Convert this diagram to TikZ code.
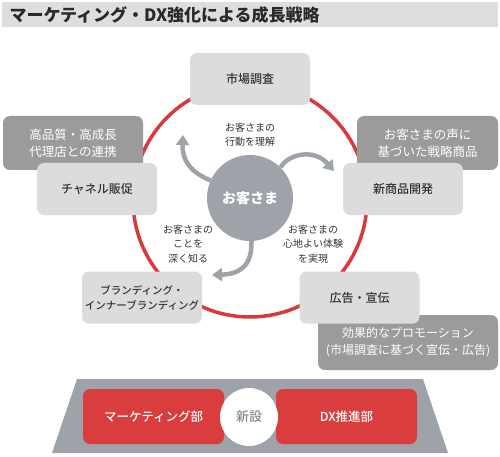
\documentclass[tikz,border=0pt]{standalone}
\usepackage{fontspec}
\setmainfont{Noto Sans CJK JP}
\newfontfamily\medfont{Noto Sans CJK JP Medium}
\usetikzlibrary{arrows.meta}

\definecolor{ringred}{HTML}{D9393C}
\definecolor{boxgray}{HTML}{DCDCDC}
\definecolor{notegray}{HTML}{9B9B9B}
\definecolor{custgray}{HTML}{9EA3A9}
\definecolor{textgray}{HTML}{333333}
\definecolor{titlebar}{HTML}{DEDEDE}
\definecolor{deptred}{HTML}{D93D3D}

\tikzset{
  stepbox/.style={fill=boxgray, rounded corners=7pt, minimum width=120pt, minimum height=52pt,
    text=textgray, font=\medfont\fontsize{12}{15}\selectfont, align=center, inner sep=0pt},
  notebox/.style={fill=notegray, rounded corners=7pt, minimum width=140pt, minimum height=54pt,
    text=white, font=\fontsize{12.5}{17}\selectfont, align=center, inner sep=0pt},
  flowarrow/.style={draw=custgray, line width=4.5pt, -{Triangle[length=10pt,width=13pt]}},
  cuetext/.style={text=textgray, font=\fontsize{10}{14.5}\selectfont, align=center, inner sep=0pt},
  deptbox/.style={fill=deptred, rounded corners=7pt, minimum width=141pt, minimum height=55pt,
    text=white, font=\medfont\fontsize{12.5}{15}\selectfont, inner sep=0pt},
}

\begin{document}
\begin{tikzpicture}[x=1pt, y=-1pt]
    \useasboundingbox (0,0) rectangle (500,457);
    % title
    \fill[titlebar] (2,2) rectangle (498,27);
    \node[anchor=west, text=textgray!80!black, font=\bfseries\fontsize{17}{17}\selectfont] (title) at (6,15) {マーケティング・DX強化による成長戦略};
    % ring
    \coordinate (ring) at (250,200);
    \draw[ringred, line width=3.5pt] (ring) circle (117pt);
    % notes behind the steps
    \node[notebox] (partner) at (73,143) {高品質・高成長\\代理店との連携};
    \node[notebox, minimum width=141pt] (voice) at (427.5,143) {お客さまの声に\\基づいた戦略商品};
    \node[notebox, minimum width=180pt, minimum height=55pt, font=\fontsize{12}{17}\selectfont] (promo) at (408,342.5) {効果的なプロモーション\\(市場調査に基づく宣伝・広告)};
    % steps on the ring
    \node[stepbox] (research) at (250,79) {市場調査};
    \node[stepbox] (channel) at (97,189) {チャネル販促};
    \node[stepbox] (product) at (403,189) {新商品開発};
    \node[stepbox, font=\medfont\fontsize{10.5}{15}\selectfont] (brand) at (142,297.5) {ブランディング・\\インナーブランディング};
    \node[stepbox] (ad) at (359.5,297.5) {広告・宣伝};
    % customer
    \node[circle, fill=custgray, minimum size=86pt, inner sep=0pt, text=white,
          font=\bfseries\fontsize{14}{14}\selectfont] (cust) at (250,198) {お客さま};
    \coordinate (tipact) at (183,135);
    \coordinate (tipfeel) at (334,171);
    \coordinate (tipknow) at (212,275);
    \draw[flowarrow] (cust.156) .. controls (190,172) and (182,160) .. (tipact);
    \draw[flowarrow] (cust.45) .. controls (288,154) and (314,148) .. (tipfeel);
    \draw[flowarrow] (cust.272) .. controls (252,266) and (240,274) .. (tipknow);
    \node[cuetext] (act) at (250,134.5) {お客さまの\\行動を理解};
    \node[cuetext] (know) at (188,244) {お客さまの\\ことを\\深く知る};
    \node[cuetext] (feel) at (313,244) {お客さまの\\心地よい体験\\を実現};
    % departments
    \fill[custgray] (77,379) -- (423,379) -- (448,453) -- (52,453) -- cycle;
    \node[deptbox] (mkt) at (153.5,416.5) {マーケティング部};
    \node[deptbox] (dx) at (346.5,416.5) {DX推進部};
    \node[circle, fill=white, minimum size=58pt, inner sep=0pt, text=custgray!85!black,
          font=\medfont\fontsize{13}{13}\selectfont] (new) at (249,417) {新設};
\end{tikzpicture}
\end{document}
